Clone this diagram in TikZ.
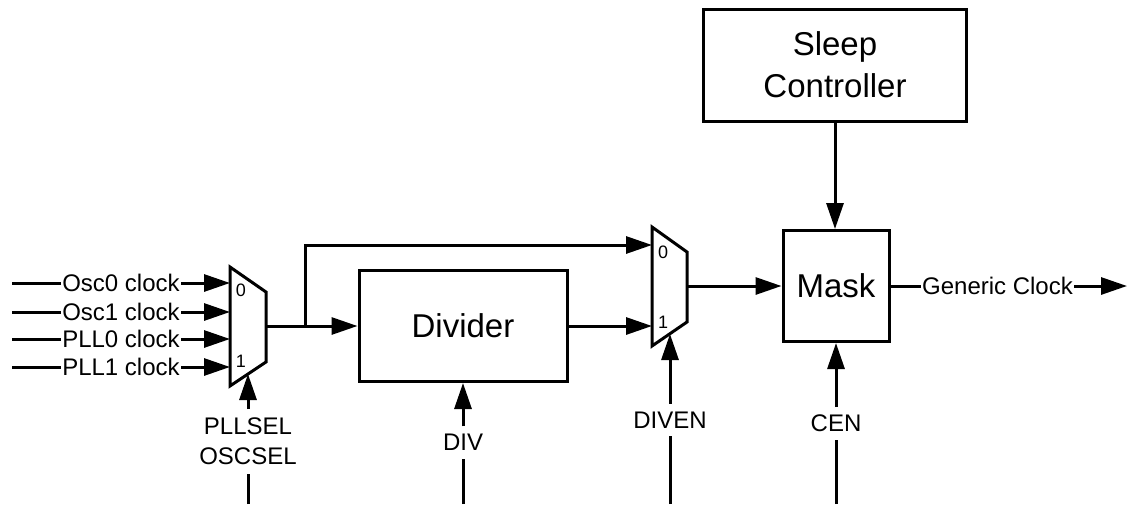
\documentclass[tikz,border=0pt]{standalone}
\usepackage{fontspec}
\setmainfont{Liberation Sans}
\usetikzlibrary{arrows.meta}
\begin{document}
\begin{tikzpicture}[x=1pt,y=-1pt,line width=3pt,
  arr/.style={-{Triangle[length=26pt,width=17pt]}},
  blk/.style={draw,inner sep=0pt,align=center,font=\fontsize{33}{42}\selectfont},
  lbl/.style={inner sep=0pt,font=\fontsize{24}{30}\selectfont},
  vlbl/.style={inner xsep=0pt,inner ysep=6.5pt,align=center,font=\fontsize{24}{30}\selectfont},
  mlbl/.style={inner sep=0pt,font=\fontsize{18}{20}\selectfont},
  mux/.style={draw,line join=miter}]
\useasboundingbox (0,0) rectangle (1132,504);

% blocks
\node[blk,minimum width=263pt,minimum height=112pt] (sleep) at (835,65) {Sleep\\Controller};
\node[blk,minimum width=106pt,minimum height=111pt] (mask) at (836,286) {Mask};
\node[blk,minimum width=208pt,minimum height=111pt] (div) at (463,326) {Divider};

% mux 1
\draw[mux] (230,267) -- (266,292) -- (266,362) -- (230,386) -- cycle;
\coordinate (m1i0) at (230,283);
\coordinate (m1i1) at (230,312);
\coordinate (m1i2) at (230,339);
\coordinate (m1i3) at (230,367);
\coordinate (m1out) at (266,326);
\coordinate (m1sel) at (248,374);
\node[mlbl] (m1z) at (241,290.5) {0};
\node[mlbl] (m1o) at (241,361.5) {1};

% mux 2
\draw[mux] (652,227) -- (687,252) -- (687,322) -- (652,346) -- cycle;
\coordinate (m2i0) at (652,245);
\coordinate (m2i1) at (652,326);
\coordinate (m2out) at (687,286);
\coordinate (m2sel) at (670,334);
\node[mlbl] (m2z) at (663,252) {0};
\node[mlbl] (m2o) at (663,322) {1};

% inputs
\node[lbl] (l0) at (121,283) {Osc0 clock};
\node[lbl] (l1) at (121,312) {Osc1 clock};
\node[lbl] (l2) at (121,339) {PLL0 clock};
\node[lbl] (l3) at (121,367) {PLL1 clock};
\coordinate (s0) at (12,283);
\coordinate (s1) at (12,312);
\coordinate (s2) at (12,339);
\coordinate (s3) at (12,367);
\draw (s0) -- (l0.west); \draw[arr] (l0.east) -- (m1i0);
\draw (s1) -- (l1.west); \draw[arr] (l1.east) -- (m1i1);
\draw (s2) -- (l2.west); \draw[arr] (l2.east) -- (m1i2);
\draw (s3) -- (l3.west); \draw[arr] (l3.east) -- (m1i3);

% data path
\coordinate (jn) at (305,326);
\draw[arr] (m1out) -- (div.west);
\draw[arr] (jn) |- (m2i0);
\draw[arr] (div.east) -- (m2i1);
\draw[arr] (m2out) -- (mask.west);
\draw[arr] (sleep.south) -- (sleep.south |- mask.north);

% output
\node[lbl] (gc) at (997.5,286) {Generic Clock};
\coordinate (gcend) at (1127,286);
\draw (mask.east) -- (gc.west);
\draw[arr] (gc.east) -- (gcend);

% select / control signals
\node[vlbl,inner ysep=7.5pt] (psel) at (248,441.5) {PLLSEL\\OSCSEL};
\coordinate (pselb) at (248,504);
\draw[arr] (psel.north) -- (m1sel);
\draw (pselb) -- (psel.south);

\node[vlbl] (divl) at (463,442.5) {DIV};
\coordinate (divb) at (463,504);
\draw[arr] (divl.north) -- (div.south);
\draw (divb) -- (divl.south);

\node[vlbl] (diven) at (670,420) {DIVEN};
\coordinate (divenb) at (670,504);
\draw[arr] (diven.north) -- (m2sel);
\draw (divenb) -- (diven.south);

\node[vlbl] (cen) at (836,423.5) {CEN};
\coordinate (cenb) at (836,504);
\draw[arr] (cen.north) -- (mask.south);
\draw (cenb) -- (cen.south);
\end{tikzpicture}
\end{document}
